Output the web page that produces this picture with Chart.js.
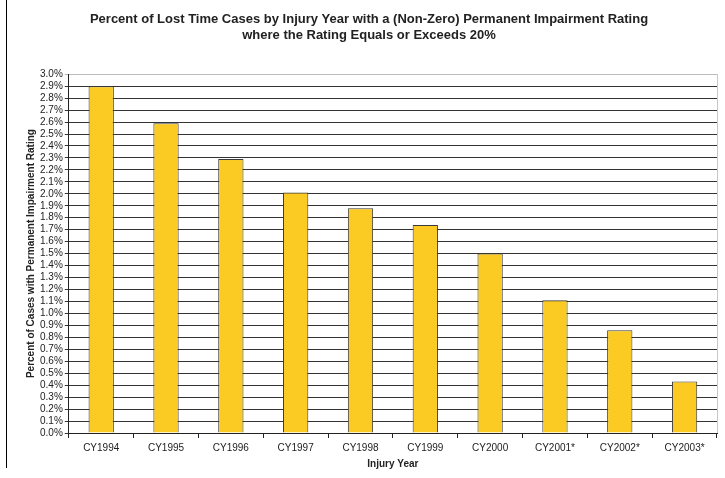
<!DOCTYPE html>
<html>
<head>
<meta charset="utf-8">
<script src="https://cdn.jsdelivr.net/npm/chart.js@4"></script>
<style>
  body { margin: 0; background: #fff; }
  #wrap { position: relative; width: 725px; height: 478px; }
  #edge { position: absolute; left: 6px; top: 0; width: 0; height: 468px; border-left: 1px solid #000; }
</style>
</head>
<body>
<div id="wrap">
  <canvas id="myBarChart" width="725" height="478"></canvas>
  <div id="edge"></div>
</div>
<script>
const years = ['CY1994', 'CY1995', 'CY1996', 'CY1997', 'CY1998', 'CY1999', 'CY2000', 'CY2001*', 'CY2002*', 'CY2003*'];
const percentRated = [2.90, 2.59, 2.29, 2.01, 1.88, 1.74, 1.50, 1.11, 0.86, 0.43];
const yMax = 3.0;
const yStep = 0.1;

const font = 'Liberation Sans, Arial, sans-serif';
Chart.defaults.font.family = font;
Chart.defaults.color = '#222';

const ctx = document.getElementById('myBarChart').getContext('2d');
const myBarChart = new Chart(ctx, {
    type: 'bar',
    data: {
        labels: years,
        datasets: [{
            data: percentRated,
            backgroundColor: '#FBCB24',
            borderColor: '#3a3a3a',
            borderWidth: 1,
            barPercentage: 0.39,
            categoryPercentage: 1.0
        }]
    },
    options: {
        responsive: false,
        animation: false,
        layout: { padding: { left: 21, right: 8, top: 0, bottom: 4 } },
        plugins: {
            legend: { display: false },
            tooltip: { enabled: false },
            title: {
                display: true,
                text: ['Percent of Lost Time Cases by Injury Year with a (Non-Zero) Permanent Impairment Rating',
                       'where the Rating Equals or Exceeds 20%'],
                color: '#222',
                font: { size: 13, weight: 'bold' },
                lineHeight: 1.5,
                padding: { top: 12, bottom: 31 }
            }
        },
        scales: {
            x: {
                grid: { drawOnChartArea: false, offset: true, color: '#222', tickLength: 5 },
                border: { color: '#222' },
                ticks: { font: { size: 10 }, padding: 4 },
                title: { display: true, text: 'Injury Year', font: { size: 10, weight: 'bold' }, padding: { top: 0 } }
            },
            y: {
                min: 0,
                max: yMax,
                ticks: {
                    stepSize: yStep,
                    font: { size: 10 },
                    padding: 2,
                    autoSkip: false,
                    callback: v => v.toFixed(1) + '%'
                },
                grid: {
                    color: c => c.tick && Math.abs(c.tick.value - yMax) < 1e-6 ? '#bbb' : '#333',
                    tickLength: 4
                },
                border: { color: '#222' },
                title: { display: true, text: 'Percent of Cases with Permanent Impairment Rating', font: { size: 10, weight: 'bold' }, padding: { bottom: 1 } }
            }
        }
    },
    plugins: [{
        id: 'rightEdge',
        afterDraw(chart) {
            const a = chart.chartArea, c = chart.ctx;
            c.save();
            c.strokeStyle = '#c8c8c8';
            c.lineWidth = 1;
            c.beginPath();
            c.moveTo(Math.round(a.right) + 0.5, a.top);
            c.lineTo(Math.round(a.right) + 0.5, a.bottom);
            c.stroke();
            c.restore();
        }
    }]
});
</script>
</body>
</html>
